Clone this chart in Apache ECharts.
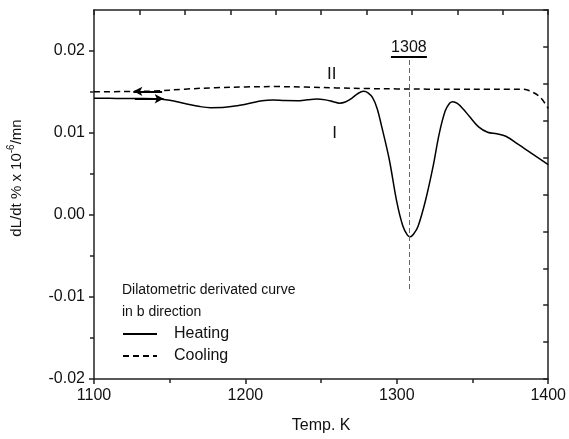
<!DOCTYPE html>
<html>
<head>
<meta charset="utf-8">
<script src="https://cdn.jsdelivr.net/npm/echarts@6/dist/echarts.min.js"></script>
<style>
html,body{margin:0;padding:0;background:#fff;}
#c{width:569px;height:439px;}
</style>
</head>
<body>
<div id="c"></div>
<script>
// ---- data ----
const heatingT = [1100,1110,1120,1130,1140,1150,1160,1170,1177,1185,1193,1203,1211,1218,1226,1234,1241,1247,1253,1258,1262,1266,1270,1274,1278,1281,1284,1287,1290,1295,1300,1304,1307,1309,1311,1314,1319,1324,1328,1332,1335,1337,1340,1344,1348,1354,1360,1366,1372,1380,1390,1400];
const heatingV = [0.01425,0.01423,0.01421,0.01420,0.01418,0.01400,0.01360,0.01322,0.01308,0.01310,0.01328,0.01362,0.01392,0.01402,0.01396,0.01394,0.01405,0.01416,0.01404,0.01382,0.01364,0.01378,0.01420,0.01478,0.01508,0.01490,0.01430,0.01300,0.01080,0.00680,0.00160,-0.00135,-0.00245,-0.00265,-0.00235,-0.00140,0.00180,0.00595,0.00990,0.01270,0.01365,0.01382,0.01360,0.01290,0.01200,0.01075,0.01010,0.00990,0.00960,0.00865,0.00740,0.00615];
const coolingT = [1100,1120,1140,1160,1180,1200,1220,1240,1260,1280,1300,1320,1340,1360,1375,1384,1390,1395,1400];
const coolingV = [0.01502,0.01506,0.01512,0.01535,0.01552,0.01562,0.01566,0.01560,0.01550,0.01542,0.01538,0.01535,0.01533,0.01533,0.01535,0.01533,0.01495,0.01430,0.01300];
const xTicks = [1100,1200,1300,1400];
const yTicks = [-0.02,-0.01,0,0.01,0.02];
const yMinorTicks = [-0.015,-0.005,0.005,0.015];
const peakT = 1308;
const peakLineV = [0.0189,-0.0094];
const coolArrowT = [1145,1126];
const coolArrowV = 0.01508;
const heatArrowT = [1127,1146];
const heatArrowV = 0.01418;
const labelI = [1259,0.0100];
const labelII = [1257,0.0171];

const FONT = "'Liberation Sans', Arial, sans-serif";
const heatingData = heatingT.map((t,i)=>[t,heatingV[i]]);
const coolingData = coolingT.map((t,i)=>[t,coolingV[i]]);
const axisCol = '#222';

const chart = echarts.init(document.getElementById('c'), null, {renderer:'canvas'});
const option = {
  animation:false,
  backgroundColor:'#fff',
  grid:{left:94,right:20,top:10,bottom:60,containLabel:false},
  xAxis:[
    {type:'value',min:1100,max:1400,interval:100,position:'bottom',
     name:'Temp. K',nameLocation:'middle',nameGap:39,
     nameTextStyle:{fontFamily:FONT,fontSize:16,color:'#111'},
     axisLine:{show:true,onZero:false,lineStyle:{color:axisCol,width:1.5}},
     axisTick:{show:true,inside:false,length:5,lineStyle:{color:axisCol,width:1.5}},
     minorTick:{show:true,splitNumber:2,length:4,lineStyle:{color:axisCol,width:1.5}},
     axisLabel:{show:true,margin:9,fontFamily:FONT,fontSize:16,color:'#111',
       customValues:xTicks,formatter:v=>String(v)},
     splitLine:{show:false}},
    {type:'value',min:0,max:10,interval:1,position:'top',
     axisLine:{show:true,onZero:false,lineStyle:{color:axisCol,width:1.5}},
     axisTick:{show:true,inside:true,length:5,lineStyle:{color:axisCol,width:1.5}},
     axisLabel:{show:false},splitLine:{show:false}}
  ],
  yAxis:[
    {type:'value',min:-0.02,max:0.025,interval:0.01,position:'left',
     axisLine:{show:true,onZero:false,lineStyle:{color:axisCol,width:1.5}},
     axisTick:{show:true,inside:false,length:5,customValues:yTicks,lineStyle:{color:axisCol,width:1.5}},
     axisLabel:{show:true,margin:9,fontFamily:FONT,fontSize:16,color:'#111',
       customValues:yTicks,formatter:v=>v.toFixed(2)},
     splitLine:{show:false}},
    {type:'value',min:0,max:10,interval:1,position:'right',
     axisLine:{show:true,onZero:false,lineStyle:{color:axisCol,width:1.5}},
     axisTick:{show:true,inside:true,length:5,lineStyle:{color:axisCol,width:1.5}},
     axisLabel:{show:false},splitLine:{show:false}},
    {type:'value',min:-0.02,max:0.025,position:'left',offset:0,
     axisLine:{show:false,onZero:false},
     axisTick:{show:true,inside:false,length:4,customValues:yMinorTicks,lineStyle:{color:axisCol,width:1.5}},
     axisLabel:{show:false},splitLine:{show:false}}
  ],
  legend:{
    orient:'vertical',left:117,top:321,itemWidth:34,itemHeight:16,itemGap:6,
    itemStyle:{opacity:0},
    textStyle:{fontFamily:FONT,fontSize:16,color:'#111',padding:[0,0,0,12]},
    data:['Heating','Cooling']
  },
  series:[
    {name:'Heating',type:'line',xAxisIndex:0,yAxisIndex:0,data:heatingData,
     smooth:0.35,symbol:'none',
     lineStyle:{color:'#000',width:1.5,type:'solid'},
     itemStyle:{color:'#000'},
     markLine:{silent:true,symbol:['none','none'],label:{show:false},
       data:[
        [{coord:[peakT,peakLineV[0]],lineStyle:{color:'#666',width:1,type:[5,3]}},{coord:[peakT,peakLineV[1]]}],
        [{coord:[heatArrowT[0],heatArrowV],symbol:'none',symbolSize:0,lineStyle:{color:'#000',width:2,type:'solid'}},
         {coord:[heatArrowT[1],heatArrowV],symbol:'arrow',symbolSize:[7,9]}]
       ]}
    },
    {name:'Cooling',type:'line',xAxisIndex:0,yAxisIndex:0,data:coolingData,
     smooth:0.35,symbol:'none',
     lineStyle:{color:'#000',width:1.5,type:[6,4]},
     itemStyle:{color:'#000'},
     markLine:{silent:true,symbol:['none','none'],label:{show:false},
       data:[
        [{coord:[coolArrowT[0],coolArrowV],symbol:'none',symbolSize:0,lineStyle:{color:'#000',width:2,type:'solid'}},
         {coord:[coolArrowT[1],coolArrowV],symbol:'arrow',symbolSize:[7,9]}]
       ]}
    }
  ]
};
chart.setOption(option);

function px(p){return chart.convertToPixel({xAxisIndex:0,yAxisIndex:0},p);}
const pTop = px([peakT,peakLineV[0]]);
const pI = px(labelI), pII = px(labelII);
chart.setOption({graphic:[
  {type:'text',x:15,y:178,rotation:Math.PI/2,
   style:{text:'{a|dL/dt % x 10}{b|-6}{a|/mn}',
     rich:{a:{fontFamily:FONT,fontSize:15,fill:'#111',lineHeight:18,verticalAlign:'bottom'},
           b:{fontFamily:FONT,fontSize:10,fill:'#111',lineHeight:18,verticalAlign:'top',padding:[0,0,7,0]}},
     align:'center',verticalAlign:'middle'}},
  {type:'text',x:pTop[0],y:pTop[1]-12,style:{text:'1308',fontFamily:FONT,fontSize:16,fill:'#111',align:'center',verticalAlign:'middle'}},
  {type:'line',shape:{x1:pTop[0]-18,y1:pTop[1]-3,x2:pTop[0]+18,y2:pTop[1]-3},style:{stroke:'#000',lineWidth:2}},
  {type:'text',x:pII[0],y:pII[1],style:{text:'II',fontFamily:FONT,fontSize:17,fill:'#111',align:'center',verticalAlign:'middle'}},
  {type:'text',x:pI[0],y:pI[1],style:{text:'I',fontFamily:FONT,fontSize:17,fill:'#111',align:'center',verticalAlign:'middle'}},
  {type:'text',x:122,y:290,style:{text:'Dilatometric derivated curve',fontFamily:FONT,fontSize:14,fill:'#111',align:'left',verticalAlign:'middle'}},
  {type:'text',x:122,y:312,style:{text:'in b direction',fontFamily:FONT,fontSize:14,fill:'#111',align:'left',verticalAlign:'middle'}}
]});
</script>
</body>
</html>
